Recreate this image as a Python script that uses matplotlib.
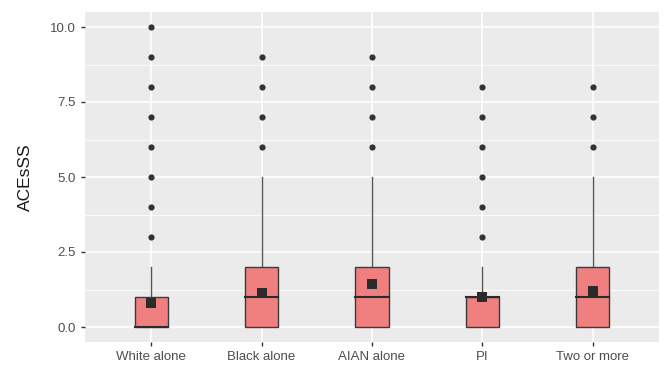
import matplotlib
matplotlib.use("Agg")
import matplotlib.pyplot as plt
from matplotlib.patches import Rectangle

plt.rcParams['font.family'] = ['Liberation Sans', 'DejaVu Sans']

categories = ["White alone", "Black alone", "AIAN alone", "PI", "Two or more"]
q1 = [0, 0, 0, 0, 0]
median = [0, 1, 1, 1, 1]
q3 = [1, 2, 2, 1, 2]
whisker_hi = [2, 5, 5, 2, 5]
whisker_lo = [0, 0, 0, 0, 0]
means = [0.79, 1.14, 1.43, 1.01, 1.19]
outliers = [
    [3, 4, 5, 6, 7, 8, 9, 10],
    [6, 7, 8, 9],
    [6, 7, 8, 9],
    [3, 4, 5, 6, 7, 8],
    [6, 7, 8],
]
yticks = [0.0, 2.5, 5.0, 7.5, 10.0]

fig = plt.figure(figsize=(6.64, 3.82), dpi=100)
ax = fig.add_axes([85/664, 1 - 342/382, (659-85)/664, (342-12)/382])
ax.set_facecolor("#EBEBEB")
ax.set_xlim(0.4, 5.6)
ax.set_ylim(-0.5, 10.5)

# grid
for y in [1.25, 3.75, 6.25, 8.75]:
    ax.axhline(y, color="white", lw=0.6, zorder=0)
for y in yticks:
    ax.axhline(y, color="white", lw=1.2, zorder=0)
for i in range(len(categories)):
    ax.axvline(i + 1, color="white", lw=1.2, zorder=0)

w = 0.3
for i, cat in enumerate(categories):
    x = i + 1
    ax.plot([x, x], [q3[i], whisker_hi[i]], color="#555555", lw=1.0, zorder=2)
    ax.plot([x, x], [whisker_lo[i], q1[i]], color="#555555", lw=1.0, zorder=2)
    ax.add_patch(Rectangle((x - w/2, q1[i]), w, q3[i] - q1[i], facecolor="#F08080",
                           edgecolor="#3a3a3a", lw=1.0, zorder=3))
    ax.plot([x - w/2, x + w/2], [median[i], median[i]], color="#2b2b2b", lw=1.5, zorder=4)
    ax.scatter([x] * len(outliers[i]), outliers[i], s=20, color="#333333", zorder=4, linewidths=0)
    ax.scatter([x], [means[i]], marker="s", s=48, color="#2b2b2b", zorder=5, linewidths=0)

ax.set_xticks(range(1, len(categories) + 1))
ax.set_xticklabels(categories)
ax.set_yticks(yticks)
ax.set_yticklabels([f"{v:.1f}" for v in yticks])
ax.tick_params(axis="both", colors="#333333", labelcolor="#4D4D4D", labelsize=9.5, length=3, width=1)
ax.set_ylabel("ACEsSS", fontsize=12.5, color="#1a1a1a")
ax.yaxis.set_label_coords(-0.09, 0.5)
for s in ax.spines.values():
    s.set_visible(False)

fig.savefig("out.png", dpi=100)
